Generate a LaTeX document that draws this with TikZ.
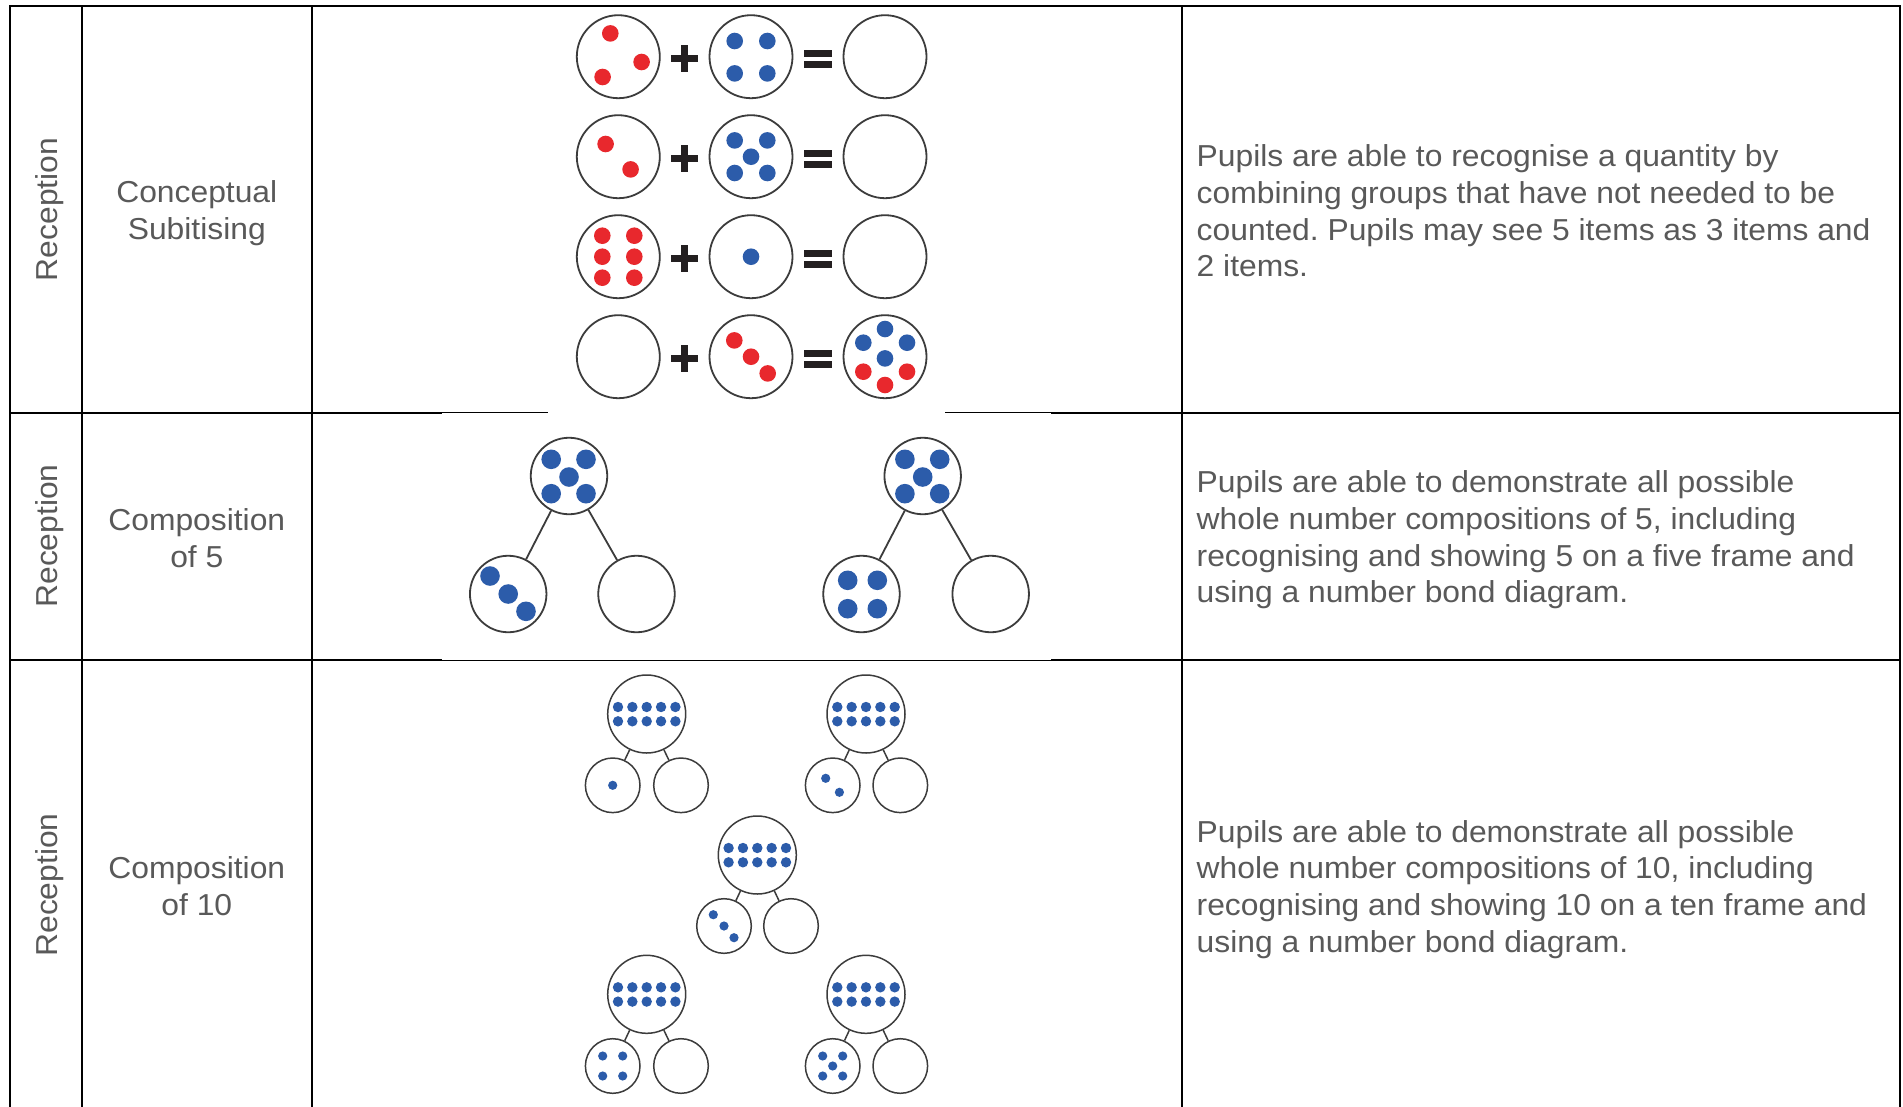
\documentclass[tikz,border=0pt]{standalone}
\usepackage{fontspec}
\setmainfont{Liberation Sans}[FakeStretch=1.05]
\usetikzlibrary{calc,shapes.geometric}
\definecolor{txtgray}{HTML}{595959}
\definecolor{dotred}{RGB}{232,40,45}
\definecolor{dotblue}{RGB}{44,92,170}
\definecolor{ringgray}{HTML}{3C3C3C}
\definecolor{signblack}{HTML}{231F20}
\newcommand\reddot[3]{\fill[reddot] ($(#1)+(#2,#3)$) circle[radius=8.3pt];}
\newcommand\bluedot[3]{\fill[bluedot] ($(#1)+(#2,#3)$) circle[radius=8.3pt];}
\newcommand\bigdot[3]{\fill[bluedot] ($(#1)+(#2,#3)$) circle[radius=9.8pt];}
\newcommand\smalldot[3]{\fill[bluedot] ($(#1)+(#2,#3)$) circle[radius=4.6pt];}
\newcommand\tenframe[1]{\foreach \dx in {-28.7,-14.35,0,14.35,28.7}{\foreach \dy in {-7,7.3}{\fill[bluedot] ($(#1)+(\dx,\dy)$) circle[radius=5.2pt];}}}
\begin{document}
\frenchspacing
\begin{tikzpicture}[x=1pt,y=-1pt,
  tableline/.style={line width=2pt,black,line cap=rect},
  thinline/.style={line width=1pt,black},
  celltext/.style={text=txtgray,font=\fontsize{30.3}{36.7}\selectfont,inner sep=0pt,align=center},
  desctext/.style={celltext,align=left,anchor=west},
  yeartext/.style={celltext,rotate=90},
  reddot/.style={fill=dotred},
  bluedot/.style={fill=dotblue},
  signbar/.style={fill=signblack},
  ringa/.style={circle,draw=ringgray,line width=1.8pt,minimum size=83pt,inner sep=0pt},
  ringb/.style={circle,draw=ringgray,line width=1.8pt,minimum size=76.5pt,inner sep=0pt},
  link/.style={draw=ringgray,line width=1.8pt},
  ringtop/.style={circle,draw=ringgray,line width=1.5pt,minimum size=78pt,inner sep=0pt},
  ringsub/.style={circle,draw=ringgray,line width=1.5pt,minimum size=54.6pt,inner sep=0pt},
  sublink/.style={draw=ringgray,line width=1.5pt}
]
\useasboundingbox (0,0) rectangle (1903,1106);
\fill[white] (0,0) rectangle (1903,1106);

% ---------- table ----------
\draw[tableline] (10,6) -- (1900,6);
\foreach \cx in {10,81.7,312,1182,1900}{\draw[tableline] (\cx,6) -- (\cx,1110);}
\draw[tableline] (10,412.5) -- (441,412.5);
\draw[thinline] (441,412.5) -- (548,412.5);
\draw[thinline] (945,412.5) -- (1052,412.5);
\draw[tableline] (1052,412.5) -- (1900,412.5);
\draw[tableline] (10,660) -- (441,660);
\draw[thinline] (441,660) -- (1052,660);
\draw[tableline] (1052,660) -- (1900,660);

% ---------- texts ----------
\node[yeartext] (y1) at (49.5,209.5) {Reception};
\node[yeartext] (y2) at (49.5,536) {Reception};
\node[yeartext] (y3) at (49.5,885) {Reception};
\node[celltext] (n1) at (196.8,213.5) {Conceptual\\Subitising};
\node[celltext] (n2) at (196.8,538) {Composition\\of 5};
\node[celltext] (n3) at (196.8,886.5) {Composition\\of 10};
\node[desctext] (d1) at (1196.5,211) {Pupils are able to recognise a quantity by\\combining groups that have not needed to be\\counted. Pupils may see 5 items as 3 items and\\2 items.};
\node[desctext] (d2) at (1196.5,540) {Pupils are able to demonstrate all possible\\whole number compositions of 5, including\\recognising and showing 5 on a five frame and\\using a number bond diagram.};
\node[desctext] (d3) at (1196.5,889.5) {Pupils are able to demonstrate all possible\\whole number compositions of 10, including\\recognising and showing 10 on a ten frame and\\using a number bond diagram.};

% ---------- picture 1: additions ----------
\foreach \ry [count=\i] in {56.7,156.7,256.7,356.7}{
  \node[ringa] (a\i) at (618.3,\ry) {};
  \node[ringa] (b\i) at (751,\ry) {};
  \node[ringa] (c\i) at (885,\ry) {};
  \fill[signbar] (671,\ry+1.5-3.6) rectangle (698.4,\ry+1.5+3.6);
  \fill[signbar] (681,\ry+1.5-13.5) rectangle (688.4,\ry+1.5+13.5);
  \fill[signbar] (804.3,\ry-6.6) rectangle (832.3,\ry+0.4);
  \fill[signbar] (804.3,\ry+4.6) rectangle (832.3,\ry+11.6);
}
\reddot{a1}{-8}{-23.3}\reddot{a1}{23.3}{5.3}\reddot{a1}{-15.7}{20.3}
\bluedot{b1}{-16.3}{-15.7}\bluedot{b1}{16.3}{-15.7}\bluedot{b1}{-16.3}{16.7}\bluedot{b1}{16.3}{16.7}
\reddot{a2}{-12.7}{-12.7}\reddot{a2}{12.3}{12.7}
\bluedot{b2}{-16.3}{-16.3}\bluedot{b2}{16.3}{-16.3}\bluedot{b2}{0}{0}\bluedot{b2}{-16.3}{16.3}\bluedot{b2}{16.3}{16.3}
\foreach \dx in {-16,16}{\foreach \dy in {-21,0,21}{\reddot{a3}{\dx}{\dy}}}
\bluedot{b3}{0}{0}
\reddot{b4}{-16.7}{-16.3}\reddot{b4}{0}{0}\reddot{b4}{16.7}{16.7}
\bluedot{c4}{0}{-27.7}\bluedot{c4}{-21.7}{-14}\bluedot{c4}{22}{-14}\bluedot{c4}{0}{1.7}
\reddot{c4}{-21.7}{15}\reddot{c4}{22}{15}\reddot{c4}{0}{28.3}

% ---------- picture 2: composition of 5 ----------
\node[ringb] (fa) at (569,476) {};
\node[ringb] (fal) at (508.2,594) {};
\node[ringb] (far) at (636.5,594) {};
\node[ringb] (fb) at (922.7,476) {};
\node[ringb] (fbl) at (861.5,594) {};
\node[ringb] (fbr) at (990.7,594) {};
\draw[link] (fa) -- (fal);
\draw[link] (fa) -- (far);
\draw[link] (fb) -- (fbl);
\draw[link] (fb) -- (fbr);
\foreach \t in {fa,fb}{
  \bigdot{\t}{-17.8}{-16.7}\bigdot{\t}{17}{-16.7}\bigdot{\t}{0}{1}\bigdot{\t}{-17.8}{17.7}\bigdot{\t}{17}{17.7}}
\bigdot{fal}{-18.2}{-18}\bigdot{fal}{0}{0}\bigdot{fal}{17.8}{17.3}
\bigdot{fbl}{-13.8}{-13.7}\bigdot{fbl}{15.8}{-13.7}\bigdot{fbl}{-13.8}{14.7}\bigdot{fbl}{15.8}{14.7}

% ---------- picture 3: composition of 10 ----------
\foreach \t/\tx/\ty/\lx/\rx/\by in {ta/646.7/714/612.7/681/785.3, tb/866/714/832.7/900.3/785.3, tc/757.3/855/724/791/926, td/646.7/994.3/612.7/681/1066, te/866/994.3/832.7/900.3/1066}{
  \node[ringtop] (\t) at (\tx,\ty) {};
  \node[ringsub] (\t l) at (\lx,\by) {};
  \node[ringsub] (\t r) at (\rx,\by) {};
  \draw[sublink] (\t) -- (\t l);
  \draw[sublink] (\t) -- (\t r);
  \tenframe{\t}
}
\smalldot{tal}{0}{0}
\smalldot{tbl}{-7}{-7}\smalldot{tbl}{6.7}{7}
\smalldot{tcl}{-10.7}{-11.3}\smalldot{tcl}{0}{0}\smalldot{tcl}{10}{11.7}
\smalldot{tdl}{-10}{-10}\smalldot{tdl}{10}{-10}\smalldot{tdl}{-10}{10}\smalldot{tdl}{10}{10}
\smalldot{tel}{-10}{-10}\smalldot{tel}{10}{-10}\smalldot{tel}{0}{0}\smalldot{tel}{-10}{10}\smalldot{tel}{10}{10}
\end{tikzpicture}
\end{document}
